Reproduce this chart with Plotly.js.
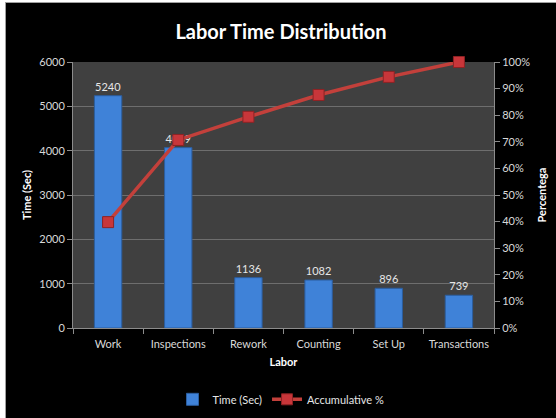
<!DOCTYPE html>
<html>
<head>
<meta charset="utf-8">
<script src="https://cdn.plot.ly/plotly-3.0.1.min.js"></script>
<style>
html,body{margin:0;padding:0;background:#ffffff;width:556px;height:418px;overflow:hidden;}
#chart{position:absolute;left:5px;top:2px;width:551px;height:416px;border-left:1px solid #a0a0a0;border-top:1px solid #a0a0a0;box-sizing:border-box;background:#000;}
</style>
</head>
<body>
<div id="chart"></div>
<script>
const categories = ["Work", "Inspections", "Rework", "Counting", "Set Up", "Transactions"];
const timeSec = [5240, 4069, 1136, 1082, 896, 739];
const accumPct = [39.8, 70.7, 79.4, 87.6, 94.4, 100];
const leftTicks = [0, 1000, 2000, 3000, 4000, 5000, 6000];
const rightTicks = [0, 10, 20, 30, 40, 50, 60, 70, 80, 90, 100];

const font = "Lato, 'Open Sans', sans-serif";

const bars = {
  type: "bar",
  name: "Time (Sec)",
  x: categories,
  y: timeSec,
  width: 0.39,
  marker: {color: "#3f82d8", line: {color: "#2b5d9e", width: 1}},
  text: timeSec.map(String),
  textposition: "outside",
  textfont: {color: "#e6e6e6", size: 11, family: font},
  cliponaxis: false,
  yaxis: "y"
};

const line = {
  type: "scatter",
  mode: "lines+markers",
  name: "Accumulative %",
  x: categories,
  y: accumPct,
  yaxis: "y2",
  line: {color: "#c3403b", width: 3.5},
  marker: {symbol: "square", size: 11, color: "#c8363a", line: {color: "#8e2224", width: 1}},
  cliponaxis: false
};

const layout = {
  width: 550,
  height: 415,
  paper_bgcolor: "#000000",
  plot_bgcolor: "#404040",
  margin: {l: 67, r: 62, t: 59, b: 90},
  title: {text: "<b>Labor Time Distribution</b>", font: {family: font, size: 20, color: "#ffffff"}, x: 0.5, xanchor: "center", y: 0.93, yanchor: "middle", automargin: false},
  showlegend: true,
  legend: {orientation: "h", x: 0.5, xanchor: "center", xref: "container", yref: "container", y: 0.045, yanchor: "middle", font: {family: font, size: 11, color: "#e6e6e6"}, bgcolor: "rgba(0,0,0,0)", traceorder: "normal"},
  xaxis: {
    automargin: false,
    tickfont: {family: font, size: 11, color: "#d9d9d9"},
    title: {text: "<b>Labor</b>", font: {family: font, size: 11, color: "#ffffff"}, standoff: 9},
    showline: true, linecolor: "#8c8c8c", linewidth: 1,
    ticks: "outside", ticklen: 5, tickcolor: "#8c8c8c",
    ticklabelstandoff: 6,
    tickson: "boundaries",
    showgrid: false
  },
  yaxis: {
    automargin: false,
    range: [0, 6000],
    tickvals: leftTicks,
    tickfont: {family: font, size: 11, color: "#d9d9d9"},
    title: {text: "<b>Time (Sec)</b>", font: {family: font, size: 11, color: "#ffffff"}, standoff: 5},
    showline: true, linecolor: "#8c8c8c", linewidth: 1,
    ticks: "outside", ticklen: 5, tickcolor: "#8c8c8c",
    showgrid: true, gridcolor: "#6e6e6e", gridwidth: 1,
    zeroline: false
  },
  yaxis2: {
    automargin: false,
    overlaying: "y",
    side: "right",
    range: [0, 100],
    tickvals: rightTicks,
    ticktext: rightTicks.map(v => v + "%"),
    tickfont: {family: font, size: 11, color: "#d9d9d9"},
    title: {text: "<b>Percentega</b>", font: {family: font, size: 11, color: "#ffffff"}, standoff: 8},
    showline: true, linecolor: "#8c8c8c", linewidth: 1,
    ticks: "outside", ticklen: 5, tickcolor: "#8c8c8c",
    showgrid: false, zeroline: false
  }
};

Plotly.newPlot("chart", [bars, line], layout, {displayModeBar: false, staticPlot: true});
</script>
</body>
</html>
